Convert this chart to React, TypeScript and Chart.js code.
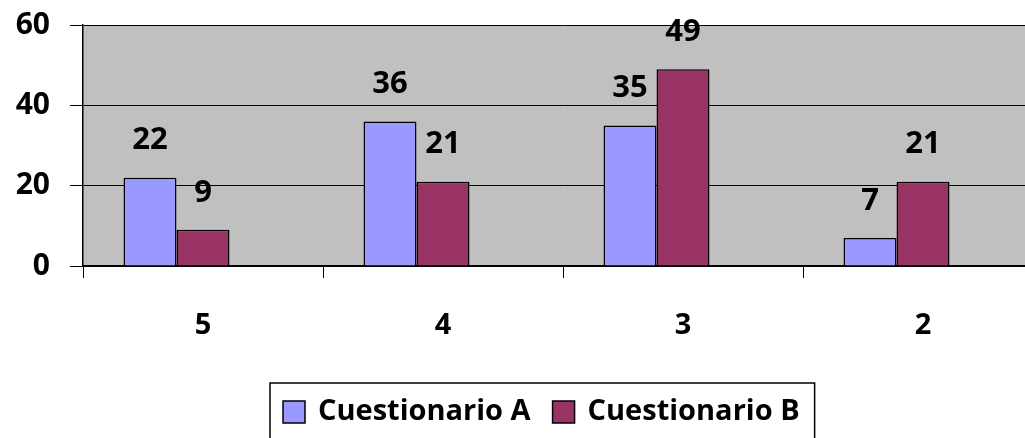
import React, { useEffect, useRef } from "react";
import { Chart, registerables } from "chart.js";

Chart.register(...registerables);

const categories = ["5", "4", "3", "2"];
const seriesA = [22, 36, 35, 7];
const seriesB = [9, 21, 49, 21];
const seriesEmpty = [null, null, null, null];
const labelA = "Cuestionario A";
const labelB = "Cuestionario B";
const yTicks = [0, 20, 40, 60];

const FONT = "'Open Sans', 'DejaVu Sans', sans-serif";
const colorA = "#9999FF";
const colorB = "#993366";

const bgPlugin = {
  id: "plotBg",
  beforeDraw(chart: any) {
    const { ctx, chartArea } = chart;
    ctx.save();
    ctx.fillStyle = "#C0C0C0";
    ctx.fillRect(chartArea.left, chartArea.top, chartArea.right - chartArea.left, chartArea.bottom - chartArea.top);
    ctx.restore();
  },
};

const valuePlugin = {
  id: "valueLabels",
  afterDatasetsDraw(chart: any) {
    const { ctx } = chart;
    ctx.save();
    ctx.font = `bold 31px ${FONT}`;
    ctx.fillStyle = "#000";
    ctx.textAlign = "center";
    ctx.textBaseline = "middle";
    chart.data.datasets.forEach((ds: any, i: number) => {
      const meta = chart.getDatasetMeta(i);
      meta.data.forEach((bar: any, j: number) => {
        const v = ds.data[j];
        if (v === null || v === undefined) return;
        ctx.fillText(String(v), bar.x, bar.y - 37);
      });
    });
    ctx.restore();
  },
};

const legendPlugin = {
  id: "boxLegend",
  afterDraw(chart: any) {
    const { ctx } = chart;
    const items = chart.data.datasets.filter((d: any) => d.label);
    ctx.save();
    ctx.font = `bold 29px ${FONT}`;
    const sq = 22;
    const gapMarkText = 13;
    const gapItems = 22;
    const padX = 12;
    let total = 0;
    items.forEach((d: any, i: number) => {
      total += sq + gapMarkText + ctx.measureText(d.label).width;
      if (i < items.length - 1) total += gapItems;
    });
    const boxLeft = 270;
    const boxWidth = total + padX * 2 + 4;
    const boxTop = 383;
    ctx.strokeStyle = "#000";
    ctx.lineWidth = 1.5;
    ctx.strokeRect(boxLeft, boxTop, boxWidth, 80);
    let x = boxLeft + padX + 1;
    const cy = 412;
    items.forEach((d: any) => {
      ctx.fillStyle = d.backgroundColor;
      ctx.fillRect(x, cy - sq / 2, sq, sq);
      ctx.strokeStyle = "#000";
      ctx.lineWidth = 1.5;
      ctx.strokeRect(x, cy - sq / 2, sq, sq);
      x += sq + gapMarkText;
      ctx.fillStyle = "#000";
      ctx.textBaseline = "middle";
      ctx.textAlign = "left";
      ctx.fillText(d.label, x, cy);
      x += ctx.measureText(d.label).width + gapItems;
    });
    ctx.restore();
  },
};

export default function App() {
  const ref = useRef<HTMLCanvasElement | null>(null);
  useEffect(() => {
    if (!ref.current) return;
    const chart = new Chart(ref.current, {
      type: "bar",
      data: {
        labels: categories,
        datasets: [
          { label: labelA, data: seriesA, backgroundColor: colorA, borderColor: "#000", borderWidth: 1.5 },
          { label: labelB, data: seriesB, backgroundColor: colorB, borderColor: "#000", borderWidth: 1.5 },
          { label: "", data: seriesEmpty as any, backgroundColor: "transparent", borderWidth: 0 },
        ],
      },
      options: {
        animation: false,
        responsive: true,
        maintainAspectRatio: false,
        datasets: { bar: { categoryPercentage: 0.6625, barPercentage: 1 } },
        layout: { padding: { top: 25, left: 0, right: 0, bottom: 0 } },
        plugins: { legend: { display: false }, tooltip: { enabled: false } },
        scales: {
          x: {
            afterFit(scale: any) {
              scale.height = 172;
              scale.paddingLeft = 0;
              scale.paddingRight = 0;
            },
            grid: { drawOnChartArea: false, drawTicks: true, tickLength: 12, color: "#000", offset: true },
            border: { display: true, color: "#000", width: 1.5 },
            ticks: { font: { family: FONT, size: 29, weight: "bold" }, color: "#000", padding: 30 },
          },
          y: {
            min: 0,
            max: 60,
            afterFit(scale: any) {
              scale.width = 83;
              scale.paddingTop = 0;
              scale.paddingBottom = 0;
            },
            afterBuildTicks(scale: any) {
              scale.ticks = yTicks.map((v) => ({ value: v }));
            },
            grid: { color: "#000", lineWidth: 1, tickLength: 13 },
            border: { display: true, color: "#000", width: 1.5 },
            ticks: { font: { family: FONT, size: 30, weight: "bold" }, color: "#000", padding: 20 },
          },
        },
      },
      plugins: [bgPlugin, valuePlugin, legendPlugin],
    });
    return () => chart.destroy();
  }, []);
  return (
    <div style={{ position: "absolute", left: 0, top: 0, width: 1025, height: 438, overflow: "hidden", background: "#fff" }}>
      <div style={{ position: "relative", width: 1043, height: 438 }}>
        <canvas ref={ref} />
      </div>
    </div>
  );
}
